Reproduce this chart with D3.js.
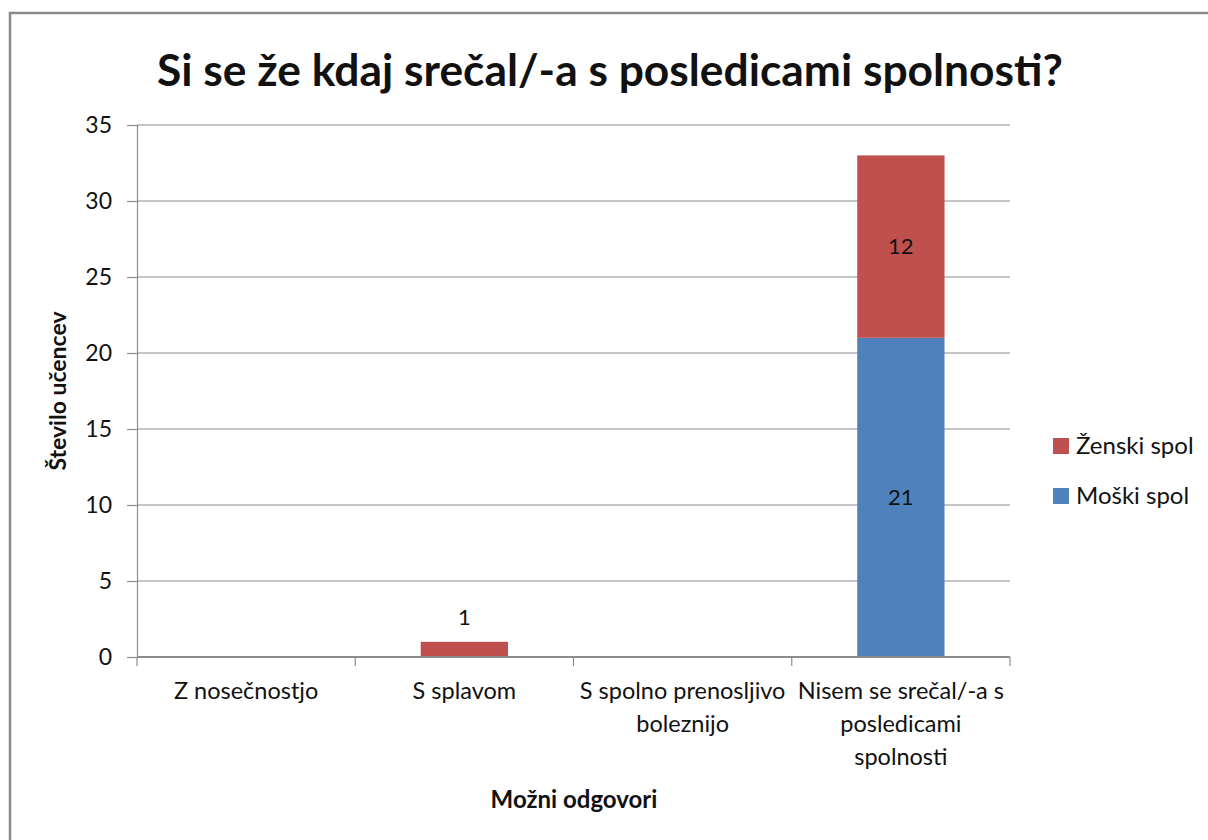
<!DOCTYPE html>
<html>
<head>
<meta charset="utf-8">
<script src="https://cdn.jsdelivr.net/npm/d3@7"></script>
<style>
  body { margin: 0; background: #fff; }
  text { font-family: Lato, "Liberation Sans", sans-serif; fill: #111; }
</style>
</head>
<body>
<div id="chart"></div>
<script>
// Si se že kdaj srečal/-a s posledicami spolnosti?
const categories = ["Z nosečnostjo", "S splavom", "S spolno prenosljivo boleznijo", "Nisem se srečal/-a s posledicami spolnosti"];
const categoryLines = [["Z nosečnostjo"], ["S splavom"], ["S spolno prenosljivo", "boleznijo"], ["Nisem se srečal/-a s", "posledicami", "spolnosti"]];
const seriesNames = ["Moški spol", "Ženski spol"];
const moski = [0, 0, 0, 21];
const zenski = [0, 1, 0, 12];
const yTicks = [0, 5, 10, 15, 20, 25, 30, 35];

const width = 1208, height = 840;
const margin = { top: 125, right: 198, bottom: 183, left: 137 };

const svg = d3.select("#chart").append("svg")
  .attr("width", width)
  .attr("height", height);

// chart border
svg.append("rect")
  .attr("x", 10).attr("y", 13)
  .attr("width", width + 20).attr("height", height + 20)
  .attr("fill", "#fff")
  .attr("stroke", "#8a8a8a")
  .attr("stroke-width", 2.5);

const x = d3.scaleBand()
  .domain(categories)
  .range([margin.left, width - margin.right]);

const y = d3.scaleLinear()
  .domain([0, 35])
  .range([height - margin.bottom, margin.top]);

const color = d3.scaleOrdinal()
  .domain(seriesNames)
  .range(["#4F81BD", "#C0504D"]);

const table = categories.map((c, i) => ({ cat: c, "Moški spol": moski[i], "Ženski spol": zenski[i] }));
const stacked = d3.stack().keys(seriesNames)(table);

// gridlines
svg.append("g")
  .selectAll("line")
  .data(yTicks.filter(d => d > 0))
  .enter().append("line")
  .attr("x1", margin.left).attr("x2", width - margin.right)
  .attr("y1", d => y(d)).attr("y2", d => y(d))
  .attr("stroke", "#8c8c8c")
  .attr("stroke-width", 1.2);

// y axis
const yAxis = svg.append("g")
  .attr("transform", `translate(${margin.left},0)`)
  .call(d3.axisLeft(y).tickValues(yTicks).tickSize(10).tickPadding(15));
yAxis.select(".domain").attr("stroke", "#8c8c8c").attr("stroke-width", 1.2);
yAxis.selectAll(".tick line").attr("stroke", "#8c8c8c").attr("stroke-width", 1.2);
yAxis.selectAll(".tick text")
  .attr("font-size", 23)
  .attr("font-family", "Lato, sans-serif")
  .attr("fill", "#222");

// bars
const barW = x.bandwidth() * 0.4;
const layer = svg.append("g")
  .selectAll("g")
  .data(stacked)
  .enter().append("g")
  .attr("fill", d => color(d.key));

layer.selectAll("rect")
  .data(d => d)
  .enter().append("rect")
  .attr("x", d => x(d.data.cat) + (x.bandwidth() - barW) / 2)
  .attr("y", d => y(d[1]))
  .attr("width", barW)
  .attr("height", d => y(d[0]) - y(d[1]));

// data labels
stacked.forEach(s => {
  s.forEach(d => {
    const v = d[1] - d[0];
    if (v <= 0) return;
    const h = y(d[0]) - y(d[1]);
    const cy = h < 24 ? y(d[1]) - 25 : (y(d[0]) + y(d[1])) / 2;
    svg.append("text")
      .attr("x", x(d.data.cat) + x.bandwidth() / 2)
      .attr("y", cy)
      .attr("dy", "0.35em")
      .attr("text-anchor", "middle")
      .attr("font-size", 22)
      .text(v);
  });
});

// x axis
const x0 = y(0);
svg.append("line")
  .attr("x1", margin.left).attr("x2", width - margin.right)
  .attr("y1", x0).attr("y2", x0)
  .attr("stroke", "#8c8c8c").attr("stroke-width", 2);

const edges = categories.map(c => x(c)).concat([width - margin.right]);
svg.append("g")
  .selectAll("line")
  .data(edges)
  .enter().append("line")
  .attr("x1", d => d).attr("x2", d => d)
  .attr("y1", x0).attr("y2", x0 + 9)
  .attr("stroke", "#8c8c8c").attr("stroke-width", 1.2);

const catLabels = svg.append("g")
  .selectAll("text")
  .data(categories)
  .enter().append("text")
  .attr("text-anchor", "middle")
  .attr("font-size", 23.5)
  .attr("fill", "#222");

catLabels.each(function(c, i) {
  d3.select(this).selectAll("tspan")
    .data(categoryLines[i])
    .enter().append("tspan")
    .attr("x", x(c) + x.bandwidth() / 2)
    .attr("y", (d, j) => x0 + 42 + j * 33)
    .text(d => d);
});

// title
const title = svg.append("text")
  .attr("x", 610)
  .attr("y", 86)
  .attr("text-anchor", "middle")
  .attr("font-weight", "bold")
  .attr("font-size", 44)
  .text("Si se že kdaj srečal/-a s posledicami spolnosti?");
const tw = title.node().getComputedTextLength();
title.attr("font-size", 44 * 906 / tw);

// axis titles
svg.append("text")
  .attr("transform", `translate(66,${(margin.top + x0) / 2}) rotate(-90)`)
  .attr("text-anchor", "middle")
  .attr("font-weight", "bold")
  .attr("font-size", 23)
  .text("Število učencev");

svg.append("text")
  .attr("x", 574)
  .attr("y", 808)
  .attr("text-anchor", "middle")
  .attr("font-weight", "bold")
  .attr("font-size", 24)
  .text("Možni odgovori");

// legend
const legendItems = ["Ženski spol", "Moški spol"];
const legend = svg.append("g")
  .selectAll("g")
  .data(legendItems)
  .enter().append("g")
  .attr("transform", (d, i) => `translate(1053,${438 + i * 50})`);

legend.append("rect")
  .attr("width", 16).attr("height", 16)
  .attr("fill", d => color(d));

legend.append("text")
  .attr("x", 23)
  .attr("y", 8)
  .attr("dy", "0.35em")
  .attr("font-size", 24)
  .text(d => d);
</script>
</body>
</html>
